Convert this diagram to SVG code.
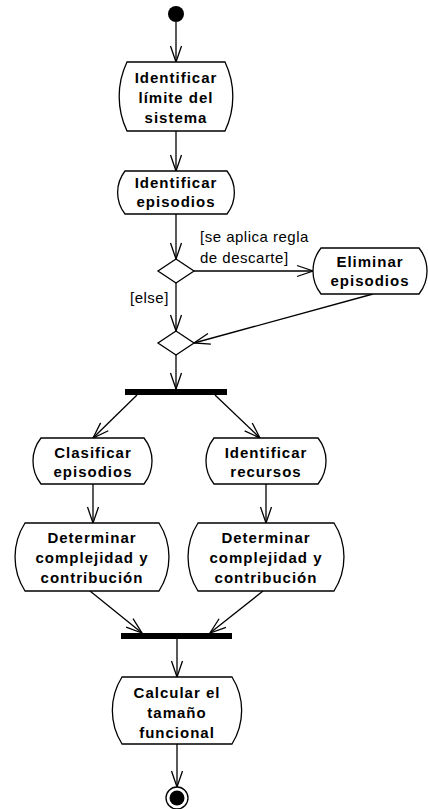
<svg xmlns="http://www.w3.org/2000/svg" width="428" height="809" viewBox="0 0 428 809">
<defs>
<style>
.act{fill:#fff;stroke:#000;stroke-width:1.3}
.t{font-family:"Liberation Sans",Arial,sans-serif;font-size:15px;font-weight:bold;letter-spacing:1px;text-anchor:middle;fill:#000}
.g{font-family:"Liberation Sans",Arial,sans-serif;font-size:15px;letter-spacing:0.5px;fill:#000}
.c{fill:none;stroke:#000;stroke-width:1.3;marker-end:url(#ah)}
.bar{fill:#000}
</style>
<marker id="ah" markerUnits="userSpaceOnUse" viewBox="-17 -7 19 14" refX="0" refY="0" markerWidth="19" markerHeight="14" orient="auto">
<path d="M-16,-5.5 L0,0 L-16,5.5" fill="none" stroke="#000" stroke-width="1.3"/>
</marker>
</defs>
<g id="connectors">
<line class="c" x1="176" y1="22" x2="176" y2="62"/>
<line class="c" x1="176" y1="131" x2="176" y2="171"/>
<line class="c" x1="176" y1="214" x2="176" y2="259"/>
<line class="c" x1="194" y1="271" x2="313" y2="271"/>
<line class="c" x1="176" y1="283" x2="176" y2="331"/>
<line class="c" x1="373" y1="294" x2="194" y2="343"/>
<line class="c" x1="176" y1="355" x2="176" y2="389"/>
<line class="c" x1="137" y1="395" x2="93" y2="438"/>
<line class="c" x1="215" y1="395" x2="260" y2="438"/>
<line class="c" x1="93" y1="484" x2="93" y2="523"/>
<line class="c" x1="266" y1="484" x2="266" y2="523"/>
<line class="c" x1="90" y1="591" x2="142" y2="633"/>
<line class="c" x1="263" y1="591" x2="210" y2="633"/>
<line class="c" x1="177" y1="639" x2="177" y2="677"/>
<line class="c" x1="177" y1="744" x2="177" y2="787"/>
</g>
<g id="start"><circle cx="176" cy="14" r="8" fill="#000"/></g>
<g id="a1">
<path class="act" d="M127,62 H225 A80,80 0 0 1 225,131 H127 A80,80 0 0 1 127,62 Z"/>
<text class="t" x="176" y="83">Identificar</text>
<text class="t" x="176" y="103">límite del</text>
<text class="t" x="176" y="123">sistema</text>
</g>
<g id="a2">
<path class="act" d="M125,171 H227 A35,35 0 0 1 227,214 H125 A35,35 0 0 1 125,171 Z"/>
<text class="t" x="176" y="188">Identificar</text>
<text class="t" x="176" y="207">episodios</text>
</g>
<g id="d1"><polygon class="act" points="176,259 194,271 176,283 158,271"/></g>
<g id="elim">
<path class="act" d="M321,248 H419 A37,37 0 0 1 419,294 H321 A37,37 0 0 1 321,248 Z"/>
<text class="t" x="370" y="267">Eliminar</text>
<text class="t" x="370" y="286">episodios</text>
</g>
<g id="d2"><polygon class="act" points="176,331 194,343 176,355 158,343"/></g>
<g id="fork"><rect class="bar" x="125" y="389" width="102" height="6"/></g>
<g id="clas">
<path class="act" d="M41,438 H144 A37,37 0 0 1 144,484 H41 A37,37 0 0 1 41,438 Z"/>
<text class="t" x="93" y="458">Clasificar</text>
<text class="t" x="93" y="477">episodios</text>
</g>
<g id="idrec">
<path class="act" d="M214,438 H318 A37,37 0 0 1 318,484 H214 A37,37 0 0 1 214,438 Z"/>
<text class="t" x="266" y="458">Identificar</text>
<text class="t" x="266" y="477">recursos</text>
</g>
<g id="detl">
<path class="act" d="M25,523 H159 A63,63 0 0 1 159,591 H25 A63,63 0 0 1 25,523 Z"/>
<text class="t" x="92" y="543">Determinar</text>
<text class="t" x="92" y="563">complejidad y</text>
<text class="t" x="92" y="583">contribución</text>
</g>
<g id="detr">
<path class="act" d="M198,523 H334 A63,63 0 0 1 334,591 H198 A63,63 0 0 1 198,523 Z"/>
<text class="t" x="266" y="543">Determinar</text>
<text class="t" x="266" y="563">complejidad y</text>
<text class="t" x="266" y="583">contribución</text>
</g>
<g id="join"><rect class="bar" x="121" y="633" width="111" height="6"/></g>
<g id="calc">
<path class="act" d="M122,677 H232 A63,63 0 0 1 232,744 H122 A63,63 0 0 1 122,677 Z"/>
<text class="t" x="177" y="698">Calcular el</text>
<text class="t" x="177" y="718">tamaño</text>
<text class="t" x="177" y="738">funcional</text>
</g>
<g id="end">
<circle cx="177" cy="798" r="11" fill="#fff" stroke="#000" stroke-width="1.3"/>
<circle cx="177" cy="798" r="7.5" fill="#000"/>
</g>
<g id="labels">
<text class="g" x="200" y="242">[se aplica regla</text>
<text class="g" x="200" y="263">de descarte]</text>
<text class="g" x="130" y="303">[else]</text>
</g>
</svg>
